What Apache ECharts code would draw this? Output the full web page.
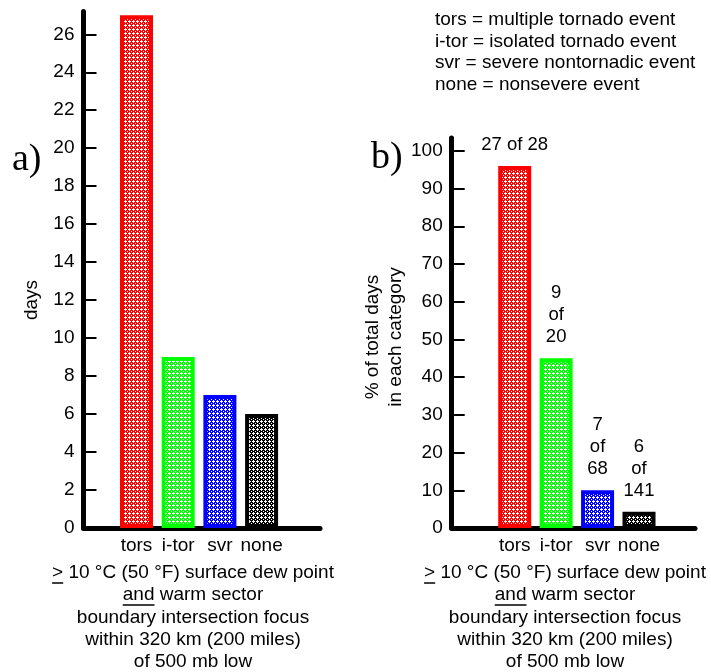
<!DOCTYPE html>
<html><head><meta charset="utf-8">
<script src="https://cdn.jsdelivr.net/npm/echarts@6/dist/echarts.min.js"></script>
<style>html,body{margin:0;padding:0;background:#fff}#c{width:711px;height:672px}</style>
</head><body><div id="c"></div>
<script>
// ---- data ----
const categories = ['tors', 'i-tor', 'svr', 'none'];
const daysValues = [27, 9, 7, 6];
const percentValues = [96, 45, 10, 4.3];
const percentLabels = ['27 of 28', '9\nof\n20', '7\nof\n68', '6\nof\n141'];
const daysTicks = [0, 2, 4, 6, 8, 10, 12, 14, 16, 18, 20, 22, 24, 26];
const percentTicks = [0, 10, 20, 30, 40, 50, 60, 70, 80, 90, 100];
const barColors = ['#ff0000', '#00ff00', '#0000ff', '#000000'];
const legendLines = [
  'tors = multiple tornado event',
  'i-tor = isolated tornado event',
  'svr = severe nontornadic event',
  'none = nonsevere event'
];
const captionLines = [
  '> 10 °C (50 °F) surface dew point',
  'and warm sector',
  'boundary intersection focus',
  'within 320 km (200 miles)',
  'of 500 mb low'
];
const leftAxisName = 'days';
const rightAxisName = '% of total days\nin each category';

// ---- styling ----
const FONT = "'Liberation Sans', Arial, Helvetica, sans-serif";
const SERIF = "'Liberation Serif', 'Times New Roman', serif";
const FS = 19;

function makePattern(color) {
  const c = document.createElement('canvas');
  c.width = 4; c.height = 4;
  const g = c.getContext('2d');
  g.fillStyle = color; g.fillRect(0, 0, 4, 4);
  g.fillStyle = '#ffffff';
  [[1,0],[0,1],[1,1],[2,1],[1,2],[3,3]].forEach(p => g.fillRect(p[0], p[1], 1, 1));
  return c;
}
const patterns = barColors.map(makePattern);

const measureCtx = document.createElement('canvas').getContext('2d');
function textWidth(t, font) { measureCtx.font = font; return measureCtx.measureText(t).width; }

const L = { axisLeft: 83.5, axisRight: 320, top: 11.5, zero: 528, barLeft: 115.65, barBand: 41.7, max: 27.2 };
const R = { axisLeft: 451.7, axisRight: 695, top: 138, zero: 528, barLeft: 494, barBand: 41.43, max: 103.4 };

function axisY(gridIndex, max, ticks) {
  return {
    gridIndex, type: 'value', min: 0, max,
    axisLine: { show: true, lineStyle: { color: '#000', width: 5 } },
    axisTick: { show: true, inside: true, length: 13, customValues: ticks, lineStyle: { color: '#000', width: 2 } },
    axisLabel: { show: true, customValues: ticks, margin: 9, color: '#000', fontFamily: FONT, fontSize: FS },
    splitLine: { show: false }
  };
}
function axisX(gridIndex) {
  return {
    gridIndex, type: 'value', min: 0, max: 1,
    axisLine: { show: true, lineStyle: { color: '#000', width: 5 } },
    axisTick: { show: false }, axisLabel: { show: false }, splitLine: { show: false }
  };
}
function catX(gridIndex) {
  return {
    gridIndex, type: 'category', data: categories,
    axisLine: { show: false }, axisTick: { show: false },
    axisLabel: { interval: 0, hideOverlap: false, margin: 8, color: '#000', fontFamily: FONT, fontSize: FS }
  };
}
function hiddenY(gridIndex, max) {
  return { gridIndex, type: 'value', min: 0, max, show: false, splitLine: { show: false } };
}
function barData(values) {
  return values.map((v, i) => ({
    value: v,
    itemStyle: { color: { image: patterns[i], repeat: 'repeat' }, borderColor: barColors[i], borderWidth: 4 }
  }));
}

// ---- graphic text ----
const graphics = [];
graphics.push({ type: 'text', x: 12, y: 160, style: { text: 'a)', font: '38px ' + SERIF, fill: '#000', textAlign: 'left', textVerticalAlign: 'middle', align: 'left', verticalAlign: 'middle' } });
graphics.push({ type: 'text', x: 371, y: 158, style: { text: 'b)', font: '38px ' + SERIF, fill: '#000', textAlign: 'left', textVerticalAlign: 'middle', align: 'left', verticalAlign: 'middle' } });
graphics.push({ type: 'text', x: 32, y: 300, rotation: Math.PI / 2, style: { text: leftAxisName, font: FS + 'px ' + FONT, fill: '#000', textAlign: 'center', textVerticalAlign: 'middle', align: 'center', verticalAlign: 'middle' } });
graphics.push({ type: 'text', x: 384, y: 337, rotation: Math.PI / 2, style: { text: rightAxisName, font: FS + 'px ' + FONT, fill: '#000', textAlign: 'center', textVerticalAlign: 'middle', align: 'center', verticalAlign: 'middle', lineHeight: 23 } });
const legendY0 = 20, legendStep = 21.5;
legendLines.forEach((t, i) => {
  graphics.push({ type: 'text', x: 435, y: legendY0 + i * legendStep, style: { text: t, font: FS + 'px ' + FONT, fill: '#000', textAlign: 'left', textVerticalAlign: 'middle', align: 'left', verticalAlign: 'middle' } });
});
const capFont = FS + 'px ' + FONT;
[193, 565].forEach(cx => {
  captionLines.forEach((t, i) => {
    const y = 573 + i * 22.2;
    graphics.push({ type: 'text', x: cx, y, style: { text: t, font: capFont, fill: '#000', textAlign: 'center', textVerticalAlign: 'middle', align: 'center', verticalAlign: 'middle' } });
  });
  // underlines: ">" on line 1 and "and" on line 2
  const w1 = textWidth(captionLines[0], capFont), g1 = textWidth('>', capFont);
  const x1 = cx - w1 / 2;
  graphics.push({ type: 'line', shape: { x1: x1, y1: 583, x2: x1 + g1, y2: 583 }, style: { stroke: '#000', lineWidth: 1.5 } });
  const w2 = textWidth(captionLines[1], capFont), g2 = textWidth('and', capFont);
  const x2 = cx - w2 / 2;
  graphics.push({ type: 'line', shape: { x1: x2, y1: 605, x2: x2 + g2, y2: 605 }, style: { stroke: '#000', lineWidth: 1.5 } });
});

const option = {
  animation: false,
  backgroundColor: '#fff',
  grid: [
    { left: L.axisLeft, top: L.top, width: L.axisRight - L.axisLeft, height: L.zero - L.top },
    { left: L.barLeft, top: L.top, width: L.barBand * 4, height: L.zero - L.top },
    { left: R.axisLeft, top: R.top, width: R.axisRight - R.axisLeft, height: R.zero - R.top },
    { left: R.barLeft, top: R.top, width: R.barBand * 4, height: R.zero - R.top }
  ],
  xAxis: [axisX(0), catX(1), axisX(2), catX(3)],
  yAxis: [axisY(0, L.max, daysTicks), hiddenY(1, L.max), axisY(2, R.max, percentTicks), hiddenY(3, R.max)],
  series: [
    { type: 'bar', xAxisIndex: 1, yAxisIndex: 1, barWidth: 33, data: barData(daysValues), z: 1 },
    { type: 'bar', xAxisIndex: 3, yAxisIndex: 3, barWidth: 33, data: barData(percentValues), z: 1,
      label: { show: true, position: 'top', distance: 10, color: '#000', fontFamily: FONT, fontSize: 18.5, lineHeight: 22,
        formatter: p => percentLabels[p.dataIndex] } }
  ],
  graphic: graphics
};
const chart = echarts.init(document.getElementById('c'), null, { renderer: 'canvas' });
chart.setOption(option);
</script>
</body></html>
